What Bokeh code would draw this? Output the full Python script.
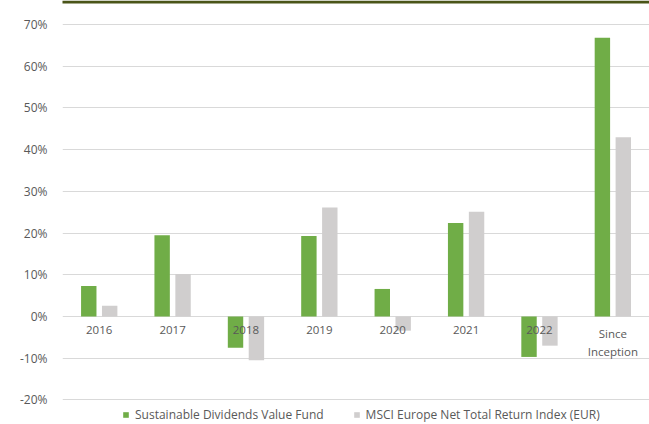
from bokeh.plotting import figure
from bokeh.models import (ColumnDataSource, FactorRange, Range1d, FixedTicker,
                          PrintfTickFormatter, Legend, LegendItem, BoxAnnotation)
from bokeh.transform import dodge
from bokeh.embed import file_html
from bokeh.resources import INLINE
from bokeh.core.properties import value

categories = ["2016", "2017", "2018", "2019", "2020", "2021", "2022", "Since\nInception"]
fund = [7.3, 19.5, -7.5, 19.3, 6.6, 22.4, -9.7, 66.8]
index = [2.6, 10.2, -10.5, 26.1, -3.4, 25.1, -7.0, 43.0]
y_ticks = [-20, -10, 0, 10, 20, 30, 40, 50, 60, 70]
series_names = ["Sustainable Dividends Value Fund", "MSCI Europe Net Total Return Index (EUR)"]

GREEN = "#70ad47"
GREY = "#d0cece"
TEXT = "#595959"
FONT = "Open Sans"

src = ColumnDataSource(dict(cat=categories, fund=fund, index=index, zero=[0] * len(categories)))

p = figure(width=649, height=424, output_backend="svg", toolbar_location=None,
           x_range=FactorRange(*categories, range_padding=0),
           y_range=Range1d(-25.9, 75.76),
           min_border_left=62, min_border_right=0, min_border_top=0, min_border_bottom=0)
p.outline_line_color = None
p.background_fill_color = "white"
p.border_fill_color = "white"

r1 = p.vbar(x=dodge("cat", -0.142, range=p.x_range), top="fund", width=0.21,
            source=src, fill_color=GREEN, line_color=None)
r2 = p.vbar(x=dodge("cat", 0.143, range=p.x_range), top="index", width=0.21,
            source=src, fill_color=GREY, line_color=None)

p.text(x="cat", y="zero", text="cat", source=src, y_offset=10,
       text_align="center", text_baseline="top", text_font=value(FONT),
       text_font_size="11.5px", text_color=TEXT, text_line_height=1.2)

p.xaxis.visible = False
p.xgrid.visible = False

ya = p.yaxis[0]
ya.ticker = FixedTicker(ticks=y_ticks)
ya.formatter = PrintfTickFormatter(format="%d%%")
ya.axis_line_color = None
ya.major_tick_line_color = None
ya.minor_tick_line_color = None
ya.major_label_standoff = 9
ya.major_label_text_font = FONT
ya.major_label_text_font_size = "12px"
ya.major_label_text_color = TEXT

p.ygrid.ticker = FixedTicker(ticks=y_ticks)
p.ygrid.grid_line_color = "#d9d9d9"
p.ygrid.grid_line_width = 1.2

p.add_layout(BoxAnnotation(left=-56, right=587, top=424, bottom=421,
                           left_units="screen", right_units="screen",
                           top_units="screen", bottom_units="screen",
                           fill_color="#4a5518", fill_alpha=1, line_color=None))

legend = Legend(items=[LegendItem(label=series_names[0], renderers=[r1]),
                       LegendItem(label=series_names[1], renderers=[r2])],
                orientation="horizontal", location=(60, 1),
                glyph_width=7, glyph_height=7, label_height=12, label_standoff=6,
                spacing=29, padding=0, margin=0,
                border_line_color=None, background_fill_alpha=0,
                label_text_font=FONT, label_text_font_size="12px",
                label_text_color=TEXT)
p.add_layout(legend, "center")

open("out.html", "w").write(file_html(p, INLINE))
